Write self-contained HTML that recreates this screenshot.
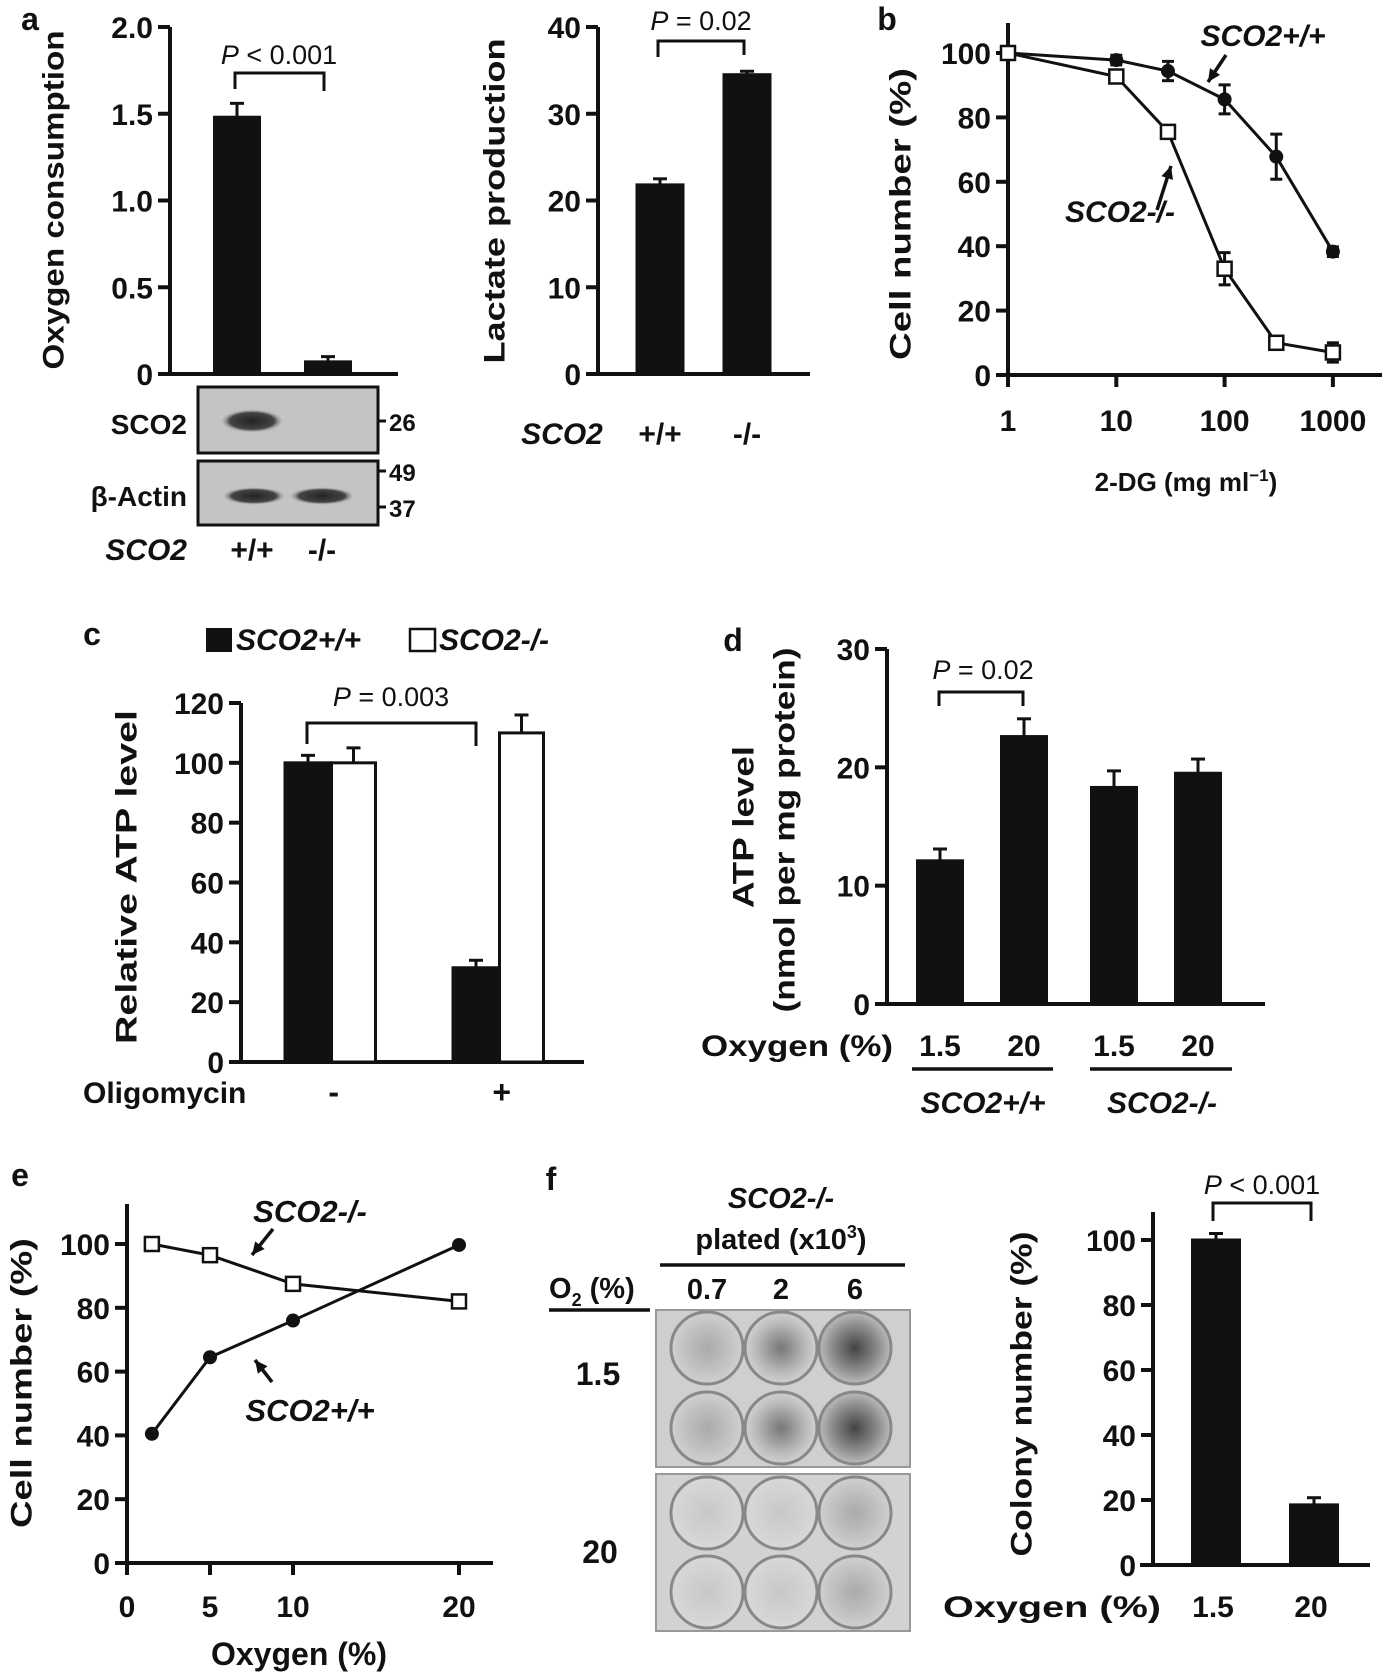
<!DOCTYPE html>
<html><head><meta charset="utf-8"><style>
html,body{margin:0;padding:0;background:#fff;}
svg{display:block;font-family:"Liberation Sans",Arial,sans-serif;font-weight:bold;}
</style></head><body>
<svg id="fig" width="1387" height="1677" viewBox="0 0 1387 1677" xmlns="http://www.w3.org/2000/svg">
<defs>
<radialGradient id="dense" cx="50%" cy="50%" r="50%"><stop offset="0" stop-color="#444"/><stop offset="0.6" stop-color="#888"/><stop offset="1" stop-color="#bbb"/></radialGradient>
<radialGradient id="mid" cx="50%" cy="50%" r="50%"><stop offset="0" stop-color="#777"/><stop offset="0.7" stop-color="#bbb"/><stop offset="1" stop-color="#d0d0d0"/></radialGradient>
<radialGradient id="light" cx="50%" cy="50%" r="50%"><stop offset="0" stop-color="#c8c8c8"/><stop offset="1" stop-color="#d8d8d8"/></radialGradient>
<radialGradient id="faint" cx="50%" cy="50%" r="50%"><stop offset="0" stop-color="#aaa"/><stop offset="0.7" stop-color="#c4c4c4"/><stop offset="1" stop-color="#d0d0d0"/></radialGradient>
<radialGradient id="band" cx="50%" cy="50%" r="50%"><stop offset="0" stop-color="#222"/><stop offset="0.7" stop-color="#444"/><stop offset="1" stop-color="#bbb" stop-opacity="0"/></radialGradient>
</defs>
</svg>
<script>
// ---- data ----
var oxyCats = ["+/+", "-/-"];
var oxyVals = [1.48, 0.07];
var oxyErr = [0.08, 0.03];
var oxyTicks = [0, 0.5, 1.0, 1.5, 2.0];
var oxyTickLabels = ["0", "0.5", "1.0", "1.5", "2.0"];
var lacCats = ["+/+", "-/-"];
var lacVals = [21.8, 34.5];
var lacErr = [0.7, 0.4];
var lacTicks = [0, 10, 20, 30, 40];
var dgDoses = [1, 10, 30, 100, 300, 1000];
var dgWT = [100, 97.8, 94.4, 85.6, 67.8, 38.3];
var dgWTErr = [0, 1.5, 3, 4.5, 7, 1.5];
var dgKO = [100, 92.7, 75.5, 33, 10, 7];
var dgKOErr = [0, 1, 1, 5, 1.5, 3];
var dgYTicks = [0, 20, 40, 60, 80, 100];
var dgXTicks = [1, 10, 100, 1000];
var atpGroups = ["-", "+"];
var atpWT = [100, 31.5];
var atpWTErr = [2.5, 2.5];
var atpKO = [100, 110];
var atpKOErr = [5, 6];
var atpTicks = [0, 20, 40, 60, 80, 100, 120];
var atp2Labels = ["1.5", "20", "1.5", "20"];
var atp2Vals = [12.1, 22.6, 18.3, 19.5];
var atp2Err = [1.0, 1.5, 1.4, 1.2];
var atp2Ticks = [0, 10, 20, 30];
var oxE = [1.5, 5, 10, 20];
var eWT = [40.5, 64.5, 76, 99.7];
var eKO = [100, 96.5, 87.5, 82];
var eYTicks = [0, 20, 40, 60, 80, 100];
var eXTicks = [0, 5, 10, 20];
var colCats = ["1.5", "20"];
var colVals = [100, 18.5];
var colErr = [2, 2.2];
var colTicks = [0, 20, 40, 60, 80, 100];

var NS = "http://www.w3.org/2000/svg";
var svg = document.getElementById('fig');
function mk(tag, attrs, parent) {
  var e = document.createElementNS(NS, tag);
  for (var k in attrs) e.setAttribute(k, attrs[k]);
  (parent || svg).appendChild(e);
  return e;
}
function txt(x, y, s, size, anchor, extra) {
  var a = {x: x, y: y, 'font-size': size, 'text-anchor': anchor || 'middle', fill: '#111'};
  if (extra) for (var k in extra) a[k] = extra[k];
  var e = mk('text', a);
  e.textContent = s;
  return e;
}
function ln(x1, y1, x2, y2, w) {
  return mk('line', {x1: x1, y1: y1, x2: x2, y2: y2, stroke: '#111', 'stroke-width': w || 4});
}
function named(e, n) {
  
  
  return e;
}
function yAxis(x, yTop, yBot, ticks, labels, sc, name) {
  var a = ln(x, yTop, x, yBot + 2, 4);
  
  
  ticks.forEach(function (t, i) {
    var tk = ln(x - 12, sc(t), x, sc(t), 4);
    
    
    var lb = txt(x - 17, sc(t) + 11, labels[i], 30, 'end');
    
    
  });
}
function bar(cx, w, v, err, sc, fill, name) {
  var top = sc(v), base = sc(0);
  var el = ln(cx, top, cx, sc(v + err), 3);
  
  
  var cap = ln(cx - 7, sc(v + err), cx + 7, sc(v + err), 3);
  
  
  var r = mk('rect', {x: cx - w / 2, y: top, width: w, height: base - top, fill: fill, stroke: '#111', 'stroke-width': 3});
  
  
}
function bracket(x1, x2, yt, yl, yr, name) {
  var p = mk('path', {d: 'M' + x1 + ' ' + yl + 'V' + yt + 'H' + x2 + 'V' + yr, fill: 'none', stroke: '#111', 'stroke-width': 3});
  
  
}
function pText(cx, y, rest, size, name) {
  var t = txt(cx, y, '', size, 'middle', {'font-weight': 'normal'});
  
  
  var s1 = document.createElementNS(NS, 'tspan'); s1.setAttribute('font-style', 'italic'); s1.textContent = 'P'; t.appendChild(s1);
  var s2 = document.createElementNS(NS, 'tspan'); s2.textContent = rest; t.appendChild(s2);
}
function vTitle(cx, cy, s, len, name, size) {
  var t = txt(cx, cy, s, size || 30, 'middle', {transform: 'rotate(-90 ' + cx + ' ' + cy + ')', textLength: len, lengthAdjust: 'spacingAndGlyphs', 'dominant-baseline': 'central'});
  
  
}
function lbl(x, y, s, size, anchor, name, extra) {
  var t = txt(x, y, s, size, anchor, extra);
  
  
  return t;
}

// ================= Panel a: oxygen =================
lbl(30, 30, 'a', 32, 'middle', 'panel-a-label');
var yA = function (v) { return 374 - v / 2 * 347; };
var xA = function (i) { return 237 + i * 91; };
yAxis(170, 27, 374, oxyTicks, oxyTickLabels, yA, 'oxygen');
var bA = ln(161, 374, 398, 374, 4);


oxyVals.forEach(function (v, i) { bar(xA(i), 45, v, oxyErr[i], yA, '#111', 'oxygen-bar-' + i); });
bracket(235, 324, 73, 89, 91, 'oxygen-sig-bracket');
pText(279, 64, ' < 0.001', 27, 'oxygen-p-value');
vTitle(54, 200, 'Oxygen consumption', 339, 'oxygen-y-title');
// blot
var b1 = mk('rect', {x: 198, y: 387, width: 180, height: 66, fill: '#c4c4c4', stroke: '#111', 'stroke-width': 3});


var b2 = mk('rect', {x: 198, y: 461, width: 180, height: 64, fill: '#c4c4c4', stroke: '#111', 'stroke-width': 3});


var bd1 = mk('ellipse', {cx: 252, cy: 421, rx: 32, ry: 12, fill: 'url(#band)'});


var bd2 = mk('ellipse', {cx: 254, cy: 496, rx: 32, ry: 9, fill: 'url(#band)'});


var bd3 = mk('ellipse', {cx: 322, cy: 496, rx: 33, ry: 9, fill: 'url(#band)'});


lbl(187, 434, 'SCO2', 28, 'end', 'blot-sco2-label');
lbl(187, 506, 'β-Actin', 28, 'end', 'blot-actin-label');
[[421, '26', 431], [471, '49', 481], [507, '37', 517]].forEach(function (m) {
  var t = ln(378, m[0], 386, m[0], 3);
  
  
  lbl(389, m[2], m[1], 24, 'start', 'mw-label-' + m[1]);
});
lbl(187, 560, 'SCO2', 30, 'end', 'blot-genotype-label', {'font-style': 'italic'});
lbl(252, 560, '+/+', 30, 'middle', 'blot-wt-label');
lbl(322, 560, '-/-', 30, 'middle', 'blot-ko-label');

// ================= Lactate =================
var yL = function (v) { return 374 - v / 40 * 347; };
var xL = function (i) { return 660 + i * 87; };
yAxis(598, 27, 374, lacTicks, lacTicks.map(String), yL, 'lactate');
var bL = ln(588, 374, 810, 374, 4);


lacVals.forEach(function (v, i) { bar(xL(i), 46, v, lacErr[i], yL, '#111', 'lactate-bar-' + i); });
bracket(658, 744, 41, 57, 55, 'lactate-sig-bracket');
pText(701, 30, ' = 0.02', 27, 'lactate-p-value');
vTitle(495, 201, 'Lactate production', 325, 'lactate-y-title');
lbl(562, 444, 'SCO2', 30, 'middle', 'lactate-genotype-label', {'font-style': 'italic'});
lacCats.forEach(function (c, i) { lbl(xL(i), 444, c, 30, 'middle', 'lactate-x-label'); });

// ================= Panel b =================
lbl(887, 30, 'b', 32, 'middle', 'panel-b-label');
var yB = function (v) { return 375 - v / 100 * 322; };
var xB = function (d) { return 1008 + Math.log10(d) * 108.3; };
yAxis(1008, 23, 375, dgYTicks, dgYTicks.map(String), yB, 'dg');
var bB = ln(1006, 375, 1382, 375, 4);


dgXTicks.forEach(function (d) {
  var t = ln(xB(d), 375, xB(d), 387, 4);
  
  
  lbl(xB(d), 431, String(d), 30, 'middle', 'dg-x-tick-label');
});
lbl(1186, 491, '', 26, 'middle', 'dg-x-title').innerHTML = '2-DG (mg ml<tspan dy="-10" font-size="17">−1</tspan><tspan dy="10">)</tspan>';
vTitle(901, 214, 'Cell number (%)', 292, 'dg-y-title');
function series(xs, ys, errs, xf, yf, filled, name) {
  var pts = xs.map(function (x, i) { return xf(x) + ',' + yf(ys[i]); }).join(' ');
  var pl = mk('polyline', {points: pts, fill: 'none', stroke: '#111', 'stroke-width': 3});
  
  
  xs.forEach(function (x, i) {
    if (errs && errs[i] > 0) {
      var e = ln(xf(x), yf(ys[i] - errs[i]), xf(x), yf(ys[i] + errs[i]), 3);
      
      
      var c1 = ln(xf(x) - 6, yf(ys[i] + errs[i]), xf(x) + 6, yf(ys[i] + errs[i]), 3);
      
      
      var c2 = ln(xf(x) - 6, yf(ys[i] - errs[i]), xf(x) + 6, yf(ys[i] - errs[i]), 3);
      
      
    }
    var m;
    if (filled) m = mk('circle', {cx: xf(x), cy: yf(ys[i]), r: 7, fill: '#111'});
    else m = mk('rect', {x: xf(x) - 7, y: yf(ys[i]) - 7, width: 14, height: 14, fill: '#fff', stroke: '#111', 'stroke-width': 2.5});
    
    
  });
}
series(dgDoses, dgWT, dgWTErr, xB, yB, true, 'dg-wt');
series(dgDoses, dgKO, dgKOErr, xB, yB, false, 'dg-ko');
function arrow(x1, y1, x2, y2, name) {
  var l = ln(x1, y1, x2, y2, 3.5);
  
  
  var ang = Math.atan2(y2 - y1, x2 - x1), s = 14;
  var p1x = x2 - s * Math.cos(ang - 0.45), p1y = y2 - s * Math.sin(ang - 0.45);
  var p2x = x2 - s * Math.cos(ang + 0.45), p2y = y2 - s * Math.sin(ang + 0.45);
  var h = mk('polygon', {points: x2 + ',' + y2 + ' ' + p1x + ',' + p1y + ' ' + p2x + ',' + p2y, fill: '#111'});
  
  
}
lbl(1263, 46, 'SCO2+/+', 30, 'middle', 'dg-wt-label', {'font-style': 'italic'});
arrow(1226, 55, 1208, 82, 'dg-wt-arrow');
lbl(1120, 222, 'SCO2-/-', 30, 'middle', 'dg-ko-label', {'font-style': 'italic'});
arrow(1157, 210, 1171, 166, 'dg-ko-arrow');

// ================= Panel c =================
lbl(92, 645, 'c', 32, 'middle', 'panel-c-label');
var lg1 = mk('rect', {x: 206, y: 628, width: 26, height: 24, fill: '#111'});


lbl(236, 650, 'SCO2+/+', 30, 'start', 'legend-wt-label', {'font-style': 'italic'});
var lg2 = mk('rect', {x: 410, y: 629, width: 25, height: 22, fill: '#fff', stroke: '#111', 'stroke-width': 2.5});


lbl(439, 650, 'SCO2-/-', 30, 'start', 'legend-ko-label', {'font-style': 'italic'});
var yC = function (v) { return 1062 - v / 120 * 359; };
var xC = function (g, s) { return 308 + g * 168 + s * 45.5; };
yAxis(241, 703, 1062, atpTicks, atpTicks.map(String), yC, 'atp');
var bC = ln(234, 1062, 584, 1062, 4);


atpGroups.forEach(function (g, i) {
  bar(xC(i, 0), 46, atpWT[i], atpWTErr[i], yC, '#111', 'atp-wt-bar-' + i);
  bar(xC(i, 1), 44, atpKO[i], atpKOErr[i], yC, '#fff', 'atp-ko-bar-' + i);
  lbl((xC(i, 0) + xC(i, 1)) / 2 + 3, 1103, g, 32, 'middle', 'atp-x-label');
});
bracket(307, 476, 723, 744, 746, 'atp-sig-bracket');
pText(391, 706, ' = 0.003', 27, 'atp-p-value');
vTitle(127, 877, 'Relative ATP level', 334, 'atp-y-title');
lbl(83, 1103, 'Oligomycin', 30, 'start', 'atp-x-title');

// ================= Panel d =================
lbl(733, 651, 'd', 32, 'middle', 'panel-d-label');
var yD = function (v) { return 1004 - v / 30 * 355; };
var xD = function (i) { return 940 + Math.floor(i / 2) * 174 + (i % 2) * 84; };
yAxis(887, 649, 1004, atp2Ticks, atp2Ticks.map(String), yD, 'atp2');
var bD = ln(875, 1004, 1265, 1004, 4);


atp2Vals.forEach(function (v, i) {
  bar(xD(i), 45, v, atp2Err[i], yD, '#111', 'atp2-bar-' + i);
  lbl(xD(i), 1056, atp2Labels[i], 30, 'middle', 'atp2-x-label');
});
bracket(939, 1023, 692, 706, 706, 'atp2-sig-bracket');
pText(983, 679, ' = 0.02', 27, 'atp2-p-value');
vTitle(744, 827, 'ATP level', 162, 'atp2-y-title');
vTitle(785, 830, '(nmol per mg protein)', 365, 'atp2-y-subtitle');
lbl(797, 1056, 'Oxygen (%)', 30, 'middle', 'atp2-x-title', {textLength: 192, lengthAdjust: 'spacingAndGlyphs'});
var u1 = ln(912, 1069, 1053, 1069, 3.5);


var u2 = ln(1090, 1069, 1232, 1069, 3.5);


lbl(983, 1113, 'SCO2+/+', 30, 'middle', 'wt-group-label', {'font-style': 'italic'});
lbl(1162, 1113, 'SCO2-/-', 30, 'middle', 'ko-group-label', {'font-style': 'italic'});

// ================= Panel e =================
lbl(20, 1186, 'e', 32, 'middle', 'panel-e-label');
var yE = function (v) { return 1563 - v / 100 * 319; };
var xE = function (o) { return 127 + o * 16.6; };
yAxis(127, 1204, 1563, eYTicks, eYTicks.map(String), yE, 'e');
var bE = ln(117, 1563, 493, 1563, 4);


eXTicks.forEach(function (o) {
  var t = ln(xE(o), 1563, xE(o), 1575, 4);
  
  
  lbl(xE(o), 1617, String(o), 30, 'middle', 'e-x-tick-label');
});
lbl(299, 1665, 'Oxygen (%)', 32, 'middle', 'e-x-title');
vTitle(22, 1383, 'Cell number (%)', 290, 'e-y-title');
series(oxE, eKO, null, xE, yE, false, 'e-ko');
series(oxE, eWT, null, xE, yE, true, 'e-wt');
lbl(310, 1222, 'SCO2-/-', 31, 'middle', 'e-ko-label', {'font-style': 'italic'});
arrow(273, 1229, 252, 1255, 'e-ko-arrow');
lbl(310, 1421, 'SCO2+/+', 31, 'middle', 'e-wt-label', {'font-style': 'italic'});
arrow(272, 1382, 255, 1360, 'e-wt-arrow');

// ================= Panel f =================
lbl(551, 1190, 'f', 32, 'middle', 'panel-f-label');
lbl(781, 1208, 'SCO2-/-', 29, 'middle', 'plate-header-genotype', {'font-style': 'italic'});
lbl(781, 1249, '', 29, 'middle', 'plate-header-plated').innerHTML = 'plated (x10<tspan dy="-11" font-size="18">3</tspan><tspan dy="11">)</tspan>';
var hl = ln(660, 1265, 905, 1265, 3.5);


lbl(549, 1298, '', 29, 'start', 'o2-header').innerHTML = 'O<tspan dy="8" font-size="18">2</tspan><tspan dy="-8"> (%)</tspan>';
var ol = ln(549, 1310, 650, 1310, 3.5);


['0.7', '2', '6'].forEach(function (s, i) { lbl(707 + i * 74, 1299, s, 29, 'middle', 'plate-column-label'); });
lbl(598, 1385, '1.5', 32, 'middle', 'plate-row-label-1');
lbl(600, 1563, '20', 32, 'middle', 'plate-row-label-2');
var pl1 = mk('rect', {x: 656, y: 1310, width: 254, height: 157, fill: '#cfcfcf', stroke: '#999', 'stroke-width': 2});


var pl2 = mk('rect', {x: 656, y: 1474, width: 254, height: 157, fill: '#d2d2d2', stroke: '#999', 'stroke-width': 2});


var wellFills = [['url(#faint)', 'url(#mid)', 'url(#dense)'], ['url(#faint)', 'url(#mid)', 'url(#dense)'], ['url(#light)', 'url(#light)', 'url(#faint)'], ['url(#light)', 'url(#light)', 'url(#faint)']];
var rowsY = [1348, 1428, 1513, 1592];
rowsY.forEach(function (ry, r) {
  [0, 1, 2].forEach(function (c) {
    var w = mk('circle', {cx: 707 + c * 74, cy: ry, r: 36, fill: wellFills[r][c], stroke: '#888', 'stroke-width': 3});
    
    
  });
});
var yF = function (v) { return 1565 - v / 100 * 325; };
var xF = function (i) { return 1216 + i * 98; };
yAxis(1153, 1212, 1565, colTicks, colTicks.map(String), yF, 'colony');
var bF = ln(1140, 1565, 1370, 1565, 4);


colVals.forEach(function (v, i) {
  bar(xF(i), 47, v, colErr[i], yF, '#111', 'colony-bar-' + i);
  lbl(xF(i) - 3, 1617, colCats[i], 30, 'middle', 'colony-x-label');
});
bracket(1213, 1311, 1203, 1221, 1221, 'colony-sig-bracket');
pText(1262, 1194, ' < 0.001', 27, 'colony-p-value');
vTitle(1022, 1394, 'Colony number (%)', 325, 'colony-y-title');
lbl(1052, 1617, 'Oxygen (%)', 30, 'middle', 'colony-x-title', {textLength: 218, lengthAdjust: 'spacingAndGlyphs'});
</script>
</body></html>
